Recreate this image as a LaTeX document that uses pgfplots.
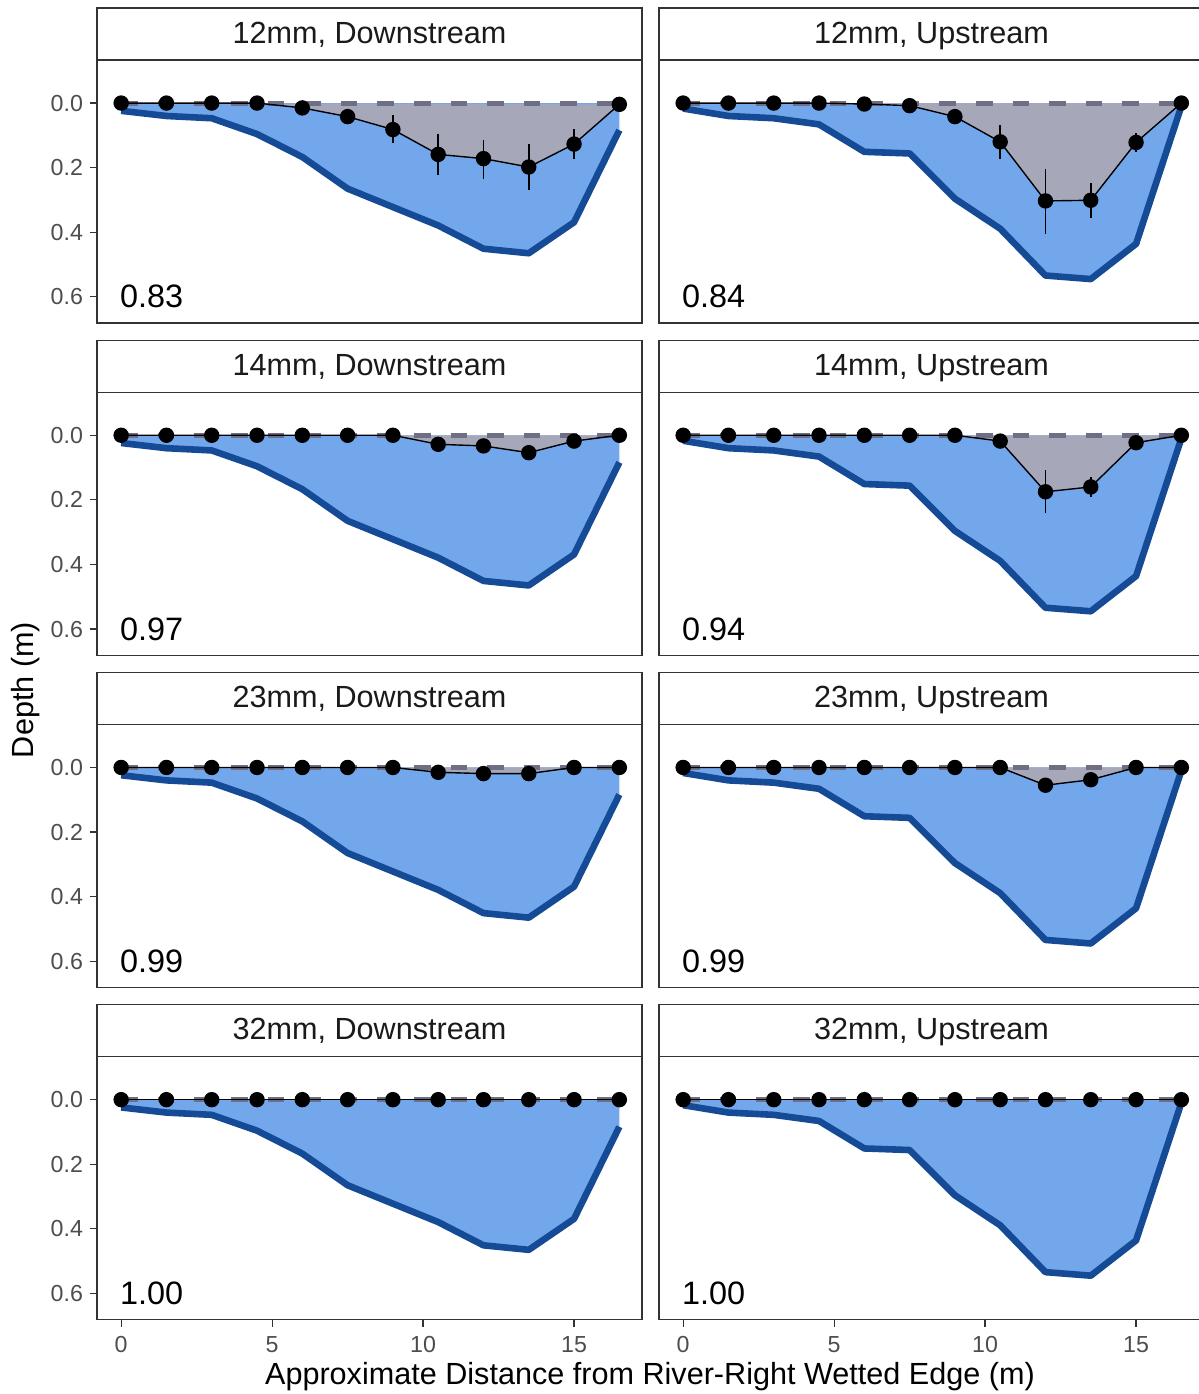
\documentclass[border=0pt]{standalone}
\usepackage{fontspec}
\setmainfont{Liberation Sans}
\usepackage{pgfplots}
\usepackage{pgfplotstable}
\pgfplotsset{compat=1.18}

\definecolor{bluefill}{HTML}{73A7EB}
\definecolor{blueline}{HTML}{154A96}
\definecolor{grayfill}{HTML}{A7A7BA}
\definecolor{dashcol}{HTML}{6E6E84}
\definecolor{bordercol}{HTML}{333333}
\definecolor{labcol}{HTML}{4D4D4D}
\definecolor{txtcol}{HTML}{1A1A1A}

% bed profiles
\pgfplotstableread{
x d
0 0.024
1.5 0.040
3 0.047
4.5 0.096
6 0.167
7.5 0.265
9 0.322
10.5 0.379
12 0.451
13.5 0.465
15 0.369
16.5 0.084
}\bedD
\pgfplotstableread{
x d
0 0
0 0.024
1.5 0.040
3 0.047
4.5 0.096
6 0.167
7.5 0.265
9 0.322
10.5 0.379
12 0.451
13.5 0.465
15 0.369
16.5 0.084
16.5 0
}\bedDfill
\pgfplotstableread{
x d
0 0.017
1.5 0.040
3 0.047
4.5 0.066
6 0.151
7.5 0.156
9 0.296
10.5 0.389
12 0.534
13.5 0.545
15 0.436
16.5 0.010
}\bedU
\pgfplotstableread{
x d
0 0
0 0.017
1.5 0.040
3 0.047
4.5 0.066
6 0.151
7.5 0.156
9 0.296
10.5 0.389
12 0.534
13.5 0.545
15 0.436
16.5 0.010
16.5 0
}\bedUfill
\pgfplotstableread{
x d
0 0
16.5 0
}\surf

% predicted depth points
\pgfplotstableread{
x d ep em
0 0 0 0
1.5 0 0 0
3 0 0 0
4.5 0 0 0
6 0.015 0 0
7.5 0.042 0 0
9 0.082 0.041 0.045
10.5 0.159 0.065 0.063
12 0.172 0.062 0.059
13.5 0.198 0.070 0.071
15 0.127 0.047 0.048
16.5 0.004 0 0
}\ptsAD
\pgfplotstableread{
x d ep em
0 0 0 0
1.5 0 0 0
3 0 0 0
4.5 0 0 0
6 0.003 0 0
7.5 0.008 0 0
9 0.042 0.015 0.012
10.5 0.120 0.054 0.052
12 0.303 0.102 0.100
13.5 0.301 0.054 0.055
15 0.122 0.029 0.030
16.5 0 0 0
}\ptsAU
\pgfplotstableread{
x d ep em
0 0 0 0
1.5 0 0 0
3 0 0 0
4.5 0 0 0
6 0 0 0
7.5 0 0 0
9 0 0 0
10.5 0.028 0 0
12 0.033 0 0
13.5 0.054 0 0
15 0.018 0 0
16.5 0 0 0
}\ptsBD
\pgfplotstableread{
x d ep em
0 0 0 0
1.5 0 0 0
3 0 0 0
4.5 0 0 0
6 0 0 0
7.5 0 0 0
9 0 0 0
10.5 0.018 0 0
12 0.175 0.065 0.066
13.5 0.160 0.030 0.030
15 0.023 0 0
16.5 0 0 0
}\ptsBU
\pgfplotstableread{
x d ep em
0 0 0 0
1.5 0 0 0
3 0 0 0
4.5 0 0 0
6 0 0 0
7.5 0 0 0
9 0 0 0
10.5 0.015 0 0
12 0.019 0 0
13.5 0.019 0 0
15 0 0 0
16.5 0 0 0
}\ptsCD
\pgfplotstableread{
x d ep em
0 0 0 0
1.5 0 0 0
3 0 0 0
4.5 0 0 0
6 0 0 0
7.5 0 0 0
9 0 0 0
10.5 0 0 0
12 0.055 0 0
13.5 0.038 0 0
15 0 0 0
16.5 0 0 0
}\ptsCU
\pgfplotstableread{
x d ep em
0 0 0 0
1.5 0 0 0
3 0 0 0
4.5 0 0 0
6 0 0 0
7.5 0 0 0
9 0 0 0
10.5 0 0 0
12 0 0 0
13.5 0 0 0
15 0 0 0
16.5 0 0 0
}\ptsDD

\pgfplotsset{
  panelstyle/.style={
    width=272.5pt, height=131.5pt, scale only axis,
    xmin=-0.8, xmax=17.25, ymin=-0.1333, ymax=0.681, y dir=reverse,
    axis line style={draw=bordercol, line width=0.6pt},
    tick align=outside, major tick length=3.5pt,
    tick style={draw=bordercol, line width=0.6pt},
    xtick=\empty, ytick=\empty,
    tick label style={font=\fontsize{11.6}{14}\selectfont, color=labcol},
    xticklabel style={yshift=-1.2pt},
    /pgf/number format/assume math mode=true,
  },
  leftcol/.style={
    ytick={0,0.2,0.4,0.6}, ytick pos=left,
    yticklabel style={/pgf/number format/.cd, fixed, fixed zerofill, precision=1},
  },
  bottomrow/.style={
    xtick={0,5,10,15}, xtick pos=left, xticklabel pos=left,
  },
}

% #1 x, #2 y(top of panel), #3 title, #4 points, #5 bed, #6 bed fill, #7 corner, #8 extra
\newcommand{\panel}[8]{%
  \begin{axis}[at={(#1,#2)}, anchor=north west, panelstyle, #8]
    \addplot[fill=bluefill, draw=none] table[x=x,y=d] {#6} -- cycle;
    \addplot[draw=blueline, line width=3.3pt, line join=round] table[x=x,y=d] {#5};
    \addplot[fill=grayfill, draw=none] table[x=x,y=d] {#4} -- cycle;
    \addplot[draw=dashcol, line width=2.5pt, dash pattern=on 8.3pt off 10pt] table[x=x,y=d] {\surf};
    \addplot[black, line width=0.7pt, mark=*, mark size=3.5pt,
      error bars/.cd, y dir=both, y explicit,
      error bar style={line width=0.8pt, black}, error mark=none]
      table[x=x, y=d, y error plus=ep, y error minus=em] {#4};
    \node[anchor=west, inner sep=0pt, font=\fontsize{16.2}{19}\selectfont] at (axis cs:-0.05,0.6) {#7};
  \end{axis}
  \draw[fill=white, draw=bordercol, line width=0.6pt] (#1,#2) rectangle ++(272.5pt,26pt);
  \node[anchor=base, font=\fontsize{15.3}{18}\selectfont, text=txtcol, inner sep=0pt] at ([shift={(136.25pt,8.35pt)}]#1,#2) {#3};
}

\begin{document}
\begin{tikzpicture}
\panel{48.5pt}{-30pt}{12mm, Downstream}{\ptsAD}{\bedD}{\bedDfill}{0.83}{leftcol}
\panel{329.5pt}{-30pt}{12mm, Upstream}{\ptsAU}{\bedU}{\bedUfill}{0.84}{}
\panel{48.5pt}{-196.1pt}{14mm, Downstream}{\ptsBD}{\bedD}{\bedDfill}{0.97}{leftcol}
\panel{329.5pt}{-196.1pt}{14mm, Upstream}{\ptsBU}{\bedU}{\bedUfill}{0.94}{}
\panel{48.5pt}{-362.2pt}{23mm, Downstream}{\ptsCD}{\bedD}{\bedDfill}{0.99}{leftcol}
\panel{329.5pt}{-362.2pt}{23mm, Upstream}{\ptsCU}{\bedU}{\bedUfill}{0.99}{}
\panel{48.5pt}{-528.3pt}{32mm, Downstream}{\ptsDD}{\bedD}{\bedDfill}{1.00}{leftcol,bottomrow}
\panel{329.5pt}{-528.3pt}{32mm, Upstream}{\ptsDD}{\bedU}{\bedUfill}{1.00}{bottomrow}

\node[rotate=90, anchor=base, inner sep=0pt, font=\fontsize{15.3}{18}\selectfont, text=black] at (16.5pt,-345pt) {Depth (m)};
\node[anchor=base, inner sep=0pt, font=\fontsize{15.3}{18}\selectfont, text=black] at (325pt,-692pt) {Approximate Distance from River-Right Wetted Edge (m)};

\pgfresetboundingbox
\useasboundingbox (0pt,0pt) rectangle (599.5pt,-697pt);
\end{tikzpicture}
\end{document}
